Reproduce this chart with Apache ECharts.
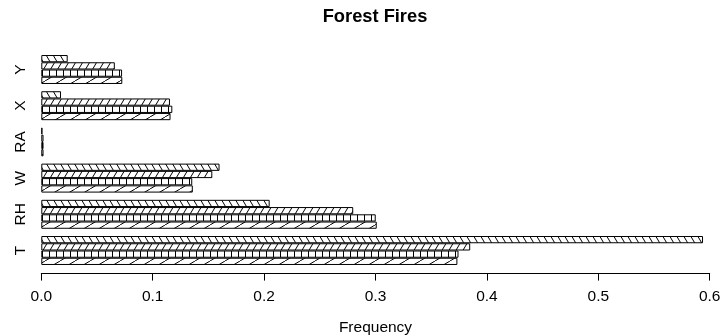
<!DOCTYPE html>
<html>
<head>
<meta charset="utf-8">
<script src="https://cdn.jsdelivr.net/npm/echarts@6/dist/echarts.min.js"></script>
<style>
    html, body { margin: 0; padding: 0; background: #fff; }
    #chart1 { width: 720px; height: 335px; }
</style>
</head>
<body>
<div id="chart1"></div>
<script>
// data, categories bottom to top
var categories = ["T", "RH", "W", "RA", "X", "Y"];
// series listed bottom bar to top bar inside each group
var series1 = [0.3735, 0.3011, 0.136, 0.002, 0.116, 0.0727];
var series2 = [0.3745, 0.3002, 0.1355, 0.002, 0.1176, 0.0725];
var series3 = [0.385, 0.280, 0.1535, 0.002, 0.1155, 0.066];
var series4 = [0.594, 0.205, 0.160, 0.001, 0.0177, 0.0237];
var xTicks = [0.0, 0.1, 0.2, 0.3, 0.4, 0.5, 0.6];

// hatch tile: kind = "slash" | "back" | "vert"
function hatch(kind, s, h) {
    var c = document.createElement("canvas");
    c.width = s;
    c.height = h;
    var ctx = c.getContext("2d");
    ctx.fillStyle = "#fff";
    ctx.fillRect(0, 0, s, h);
    ctx.strokeStyle = "#000";
    ctx.lineWidth = 1;
    ctx.beginPath();
    if (kind == "vert") {
        ctx.moveTo(0.5, 0);
        ctx.lineTo(0.5, h);
    } else {
        for (var k = -1; k <= 1; k++) {
            if (kind == "slash") {
                ctx.moveTo(k * s, h);
                ctx.lineTo((k + 1) * s, 0);
            } else {
                ctx.moveTo(k * s, 0);
                ctx.lineTo((k + 1) * s, h);
            }
        }
    }
    ctx.stroke();
    return { image: c, repeat: "repeat" };
}

// echarts puts the first series on top, so go top -> bottom
var values = [series4, series3, series2, series1];
var fills = [
    hatch("back", 7, 12),
    hatch("slash", 7, 12),
    hatch("vert", 7, 4),
    hatch("slash", 15, 9)
];

var mychart = echarts.init(document.getElementById("chart1"), null, { renderer: "canvas" });
var font = "Liberation Sans, Arial, Helvetica, sans-serif";

var option = {
    animation: false,
    backgroundColor: "#fff",
    title: {
        text: "Forest Fires",
        left: 375,
        top: 8,
        padding: 0,
        textAlign: "center",
        textStyle: {
            color: "#000",
            fontWeight: "bold",
            fontSize: 18.3,
            fontFamily: font
        }
    },
    grid: {
        left: 41.3,
        right: 10.3,
        top: 51.4,
        bottom: 66.4,
        containLabel: false,
        outerBoundsMode: "none"
    },
    xAxis: {
        type: "value",
        min: 0,
        max: 0.6,
        interval: 0.1,
        offset: 5,
        name: "Frequency",
        nameLocation: "middle",
        nameGap: 46,
        nameTextStyle: { color: "#000", fontSize: 15.5, fontFamily: font },
        axisLine: { show: true, lineStyle: { color: "#000", width: 1 } },
        axisTick: { show: true, length: 7, lineStyle: { color: "#000" } },
        axisLabel: {
            color: "#000",
            fontSize: 15.5,
            fontFamily: font,
            margin: 15,
            formatter: function (v) {
                var i = xTicks.indexOf(Math.round(v * 10) / 10);
                return i >= 0 ? xTicks[i].toFixed(1) : "";
            }
        },
        splitLine: { show: false }
    },
    yAxis: {
        type: "category",
        data: categories,
        axisLine: { show: false },
        axisTick: { show: false },
        axisLabel: {
            rotate: 90,
            color: "#000",
            fontSize: 15.5,
            fontFamily: font,
            margin: 13
        }
    },
    series: values.map(function (v, i) {
        return {
            type: "bar",
            data: v,
            barGap: "0%",
            barCategoryGap: "20%",
            itemStyle: {
                color: fills[i],
                borderColor: "#000",
                borderWidth: 1
            }
        };
    })
};
mychart.setOption(option);
</script>
</body>
</html>
